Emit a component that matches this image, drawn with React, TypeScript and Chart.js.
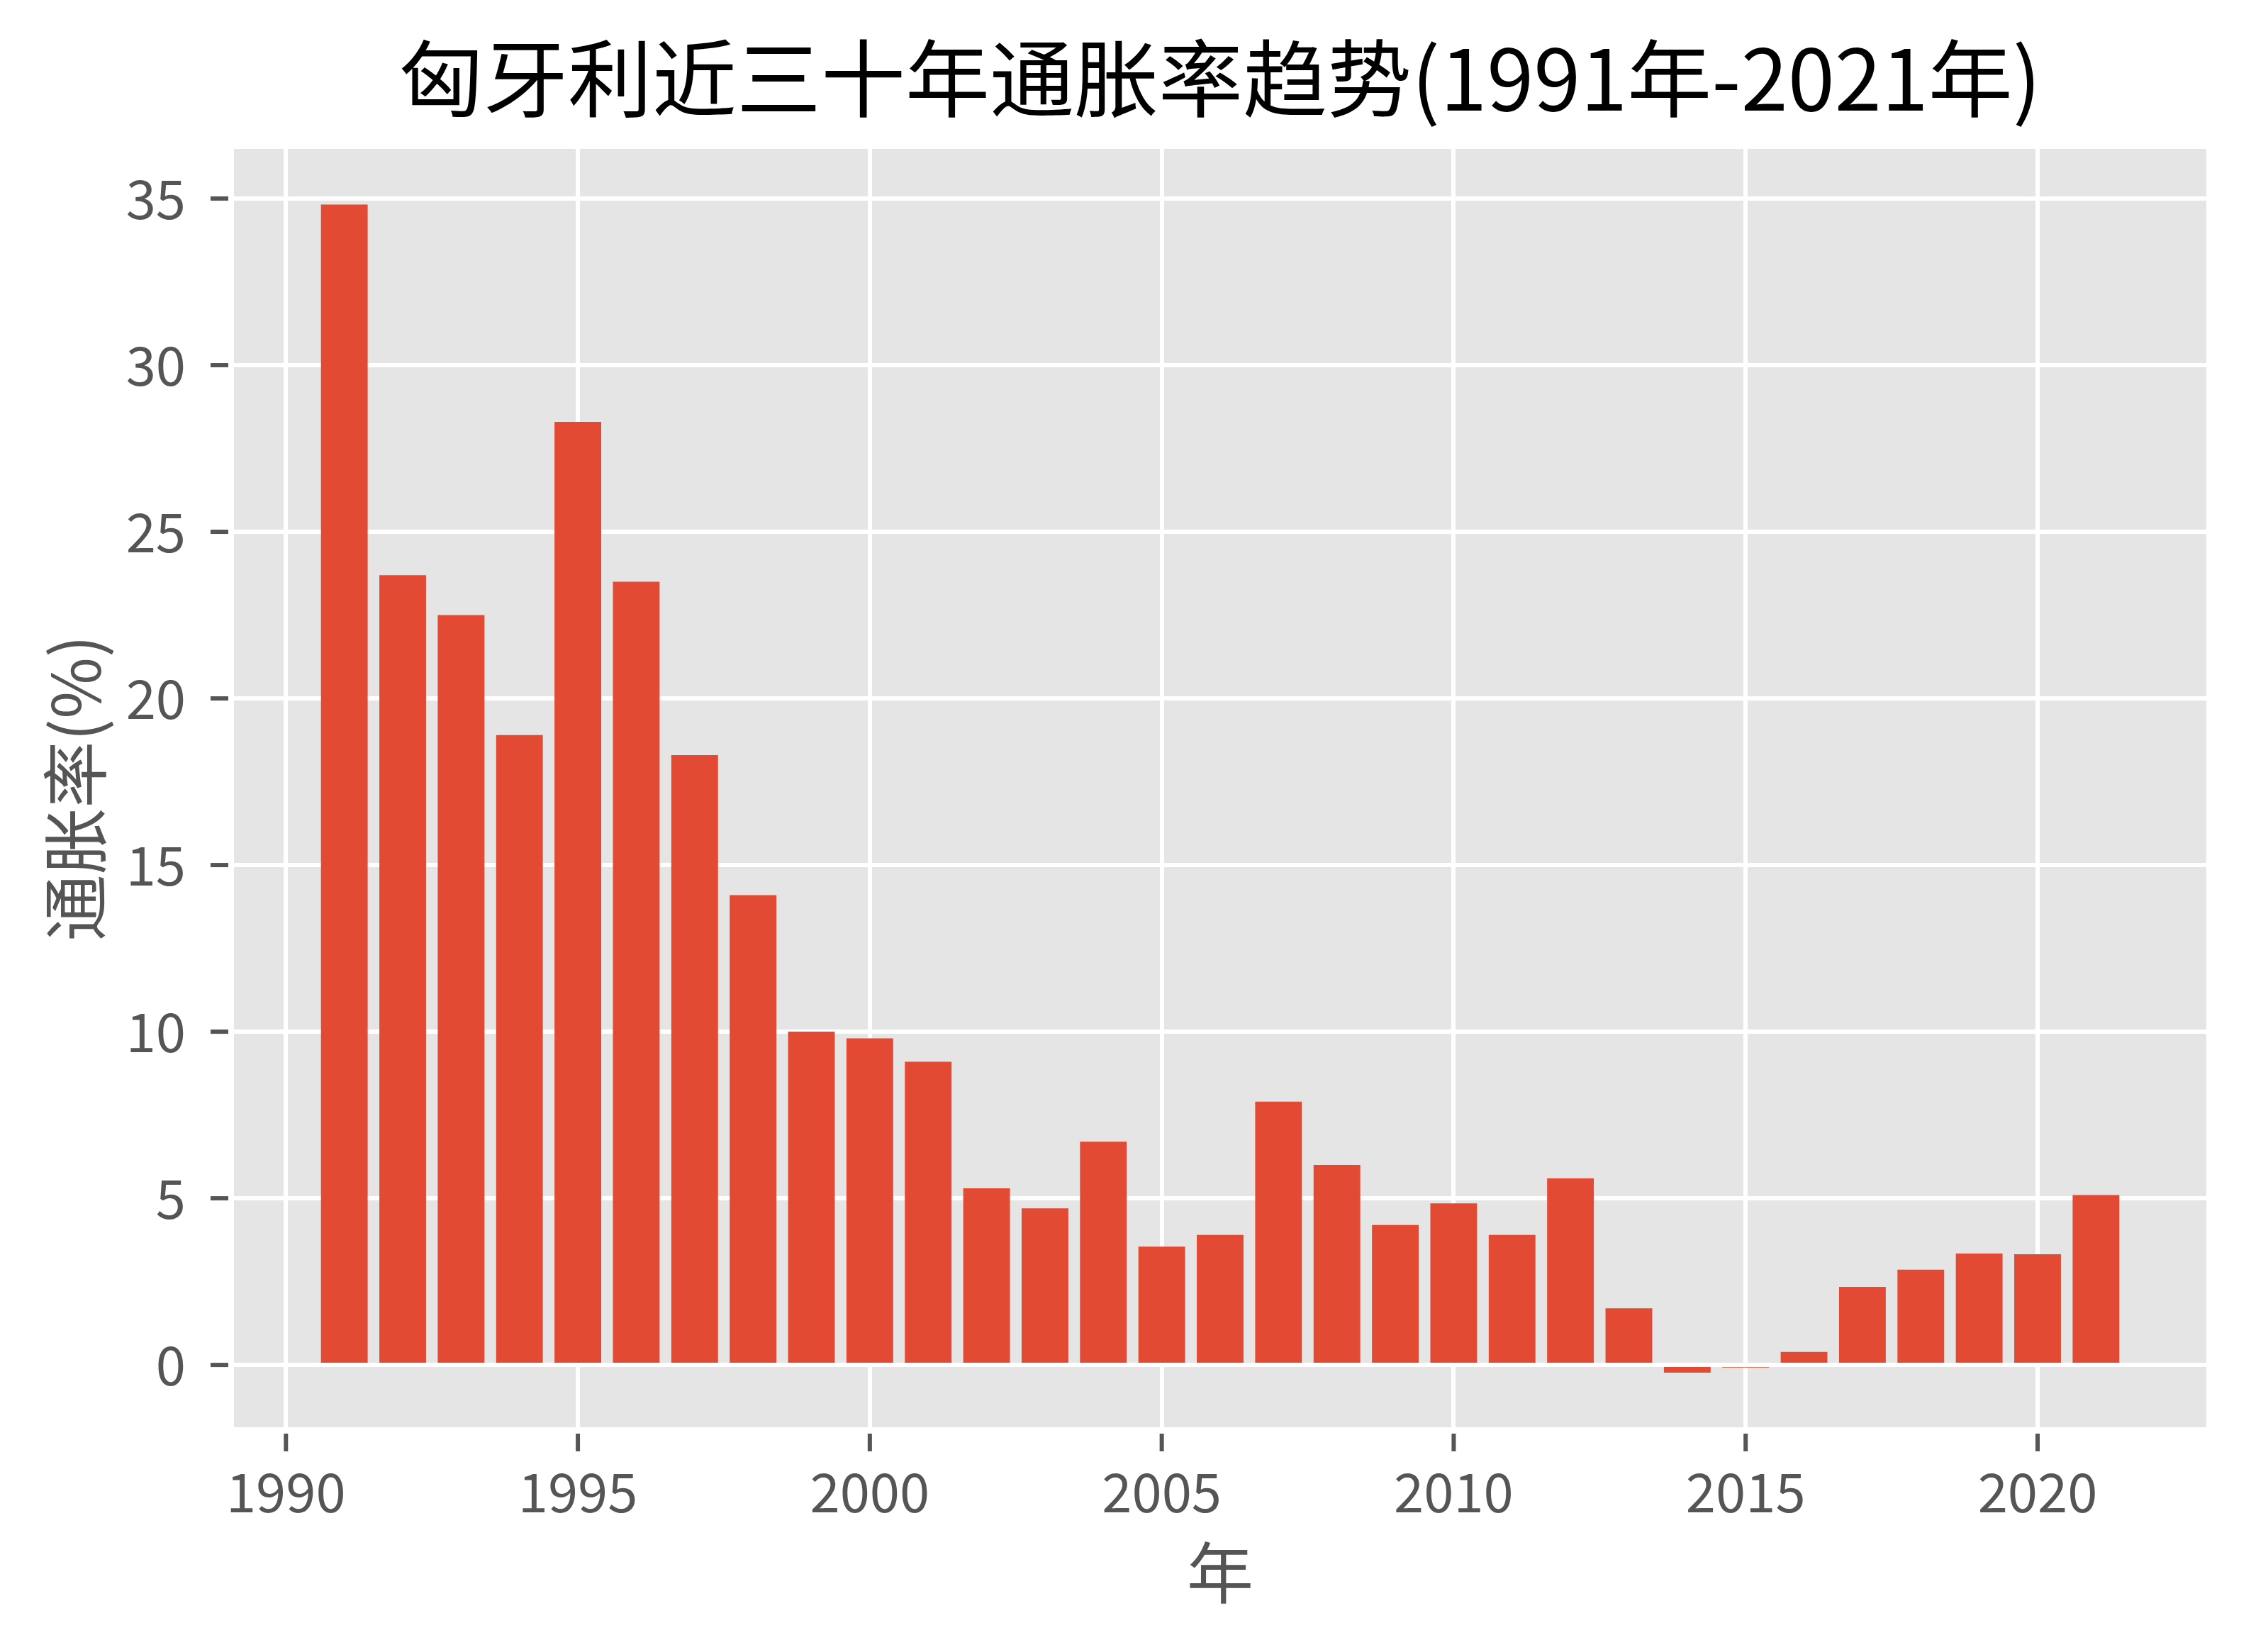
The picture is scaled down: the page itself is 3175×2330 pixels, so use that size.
import React, { useEffect, useRef } from 'react';
import { Chart, registerables } from 'chart.js';

Chart.register(...registerables);

const years = [
  1991, 1992, 1993, 1994, 1995, 1996, 1997, 1998, 1999, 2000,
  2001, 2002, 2003, 2004, 2005, 2006, 2007, 2008, 2009, 2010,
  2011, 2012, 2013, 2014, 2015, 2016, 2017, 2018, 2019, 2020, 2021,
];
const inflation = [
  34.82, 23.7, 22.5, 18.9, 28.3, 23.5, 18.3, 14.1, 10.0, 9.8,
  9.1, 5.3, 4.7, 6.7, 3.55, 3.9, 7.9, 6.0, 4.2, 4.85,
  3.9, 5.6, 1.7, -0.23, -0.08, 0.39, 2.34, 2.86, 3.34, 3.32, 5.1,
];
const xTickValues = [1990, 1995, 2000, 2005, 2010, 2015, 2020];
const yTickValues = [0, 5, 10, 15, 20, 25, 30, 35];

const titleText = '匈牙利近三十年通胀率趋势(1991年-2021年)';
const xLabel = '年';
const yLabel = '通胀率(%)';

const FONT = '"Noto Sans CJK SC", "Noto Sans", sans-serif';
const W = 3175;
const H = 2330;

const bgPlugin = {
  id: 'plotBg',
  beforeDraw(chart: any) {
    const { ctx, chartArea } = chart;
    ctx.save();
    ctx.fillStyle = '#E5E5E5';
    ctx.fillRect(chartArea.left, chartArea.top, chartArea.right - chartArea.left, chartArea.bottom - chartArea.top);
    ctx.restore();
  },
};

const titlePlugin = {
  id: 'axesTitle',
  afterDraw(chart: any) {
    const { ctx, chartArea } = chart;
    ctx.save();
    ctx.fillStyle = '#000000';
    ctx.font = `normal 119px ${FONT}`;
    ctx.textAlign = 'center';
    ctx.textBaseline = 'middle';
    ctx.fillText(titleText, (chartArea.left + chartArea.right) / 2, 111);
    ctx.restore();
  },
};

const tickMarkPlugin = {
  id: 'tickMarks',
  afterDraw(chart: any) {
    const { ctx, chartArea, scales } = chart;
    ctx.save();
    ctx.fillStyle = '#555555';
    scales.x.ticks.forEach((t: any) => {
      const px = scales.x.getPixelForValue(t.value);
      ctx.fillRect(px - 3, chartArea.bottom + 9, 6, 25);
    });
    scales.y.ticks.forEach((t: any) => {
      const py = scales.y.getPixelForValue(t.value);
      ctx.fillRect(chartArea.left - 33, py - 3, 25, 6);
    });
    ctx.restore();
  },
};

export default function App() {
  const canvasRef = useRef<HTMLCanvasElement | null>(null);

  useEffect(() => {
    const canvas = canvasRef.current;
    if (!canvas) return;
    const chart = new Chart(canvas, {
      type: 'bar',
      data: {
        datasets: [
          {
            data: years.map((y, i) => ({ x: y, y: inflation[i] })),
            backgroundColor: '#E24A33',
            borderWidth: 0,
            barPercentage: 0.8,
            categoryPercentage: 1.0,
          },
        ],
      },
      options: {
        responsive: false,
        devicePixelRatio: 1,
        animation: false,
        layout: { padding: { left: 0, top: 210, right: 63, bottom: 0 } },
        plugins: {
          legend: { display: false },
          tooltip: { enabled: false },
          title: { display: false },
        },
        scales: {
          x: {
            type: 'linear',
            min: 1989.11,
            max: 2022.89,
            offset: false,
            grid: { color: '#FFFFFF', lineWidth: 6, drawTicks: false, offset: false },
            border: { display: false },
            afterBuildTicks: (axis: any) => {
              axis.ticks = xTickValues.map((v) => ({ value: v }));
            },
            afterFit: (scale: any) => {
              scale.height = 317;
            },
            ticks: {
              color: '#555555',
              font: { family: FONT, size: 76 },
              padding: 46,
              maxRotation: 0,
              autoSkip: false,
              callback: (v: any) => String(v),
            },
            title: {
              display: true,
              text: xLabel,
              color: '#555555',
              font: { family: FONT, size: 94 },
              padding: { top: 0, bottom: 55 },
            },
          },
          y: {
            type: 'linear',
            min: -1.87,
            max: 36.49,
            grid: { color: '#FFFFFF', lineWidth: 6, drawTicks: false },
            border: { display: false },
            afterBuildTicks: (axis: any) => {
              axis.ticks = yTickValues.map((v) => ({ value: v }));
            },
            afterFit: (scale: any) => {
              scale.width = 330;
            },
            ticks: {
              color: '#555555',
              font: { family: FONT, size: 76 },
              padding: 68,
              autoSkip: false,
              callback: (v: any) => String(v),
            },
            title: {
              display: true,
              text: yLabel,
              color: '#555555',
              font: { family: FONT, size: 94 },
              padding: { top: 50, bottom: 0 },
            },
          },
        },
      },
      plugins: [bgPlugin, tickMarkPlugin, titlePlugin],
    } as any);
    return () => {
      chart.destroy();
    };
  }, []);

  return (
    <div style={{ position: 'absolute', left: 0, top: 0, width: W, height: H, background: '#FFFFFF' }}>
      <canvas ref={canvasRef} width={W} height={H} style={{ display: 'block' }} />
    </div>
  );
}
